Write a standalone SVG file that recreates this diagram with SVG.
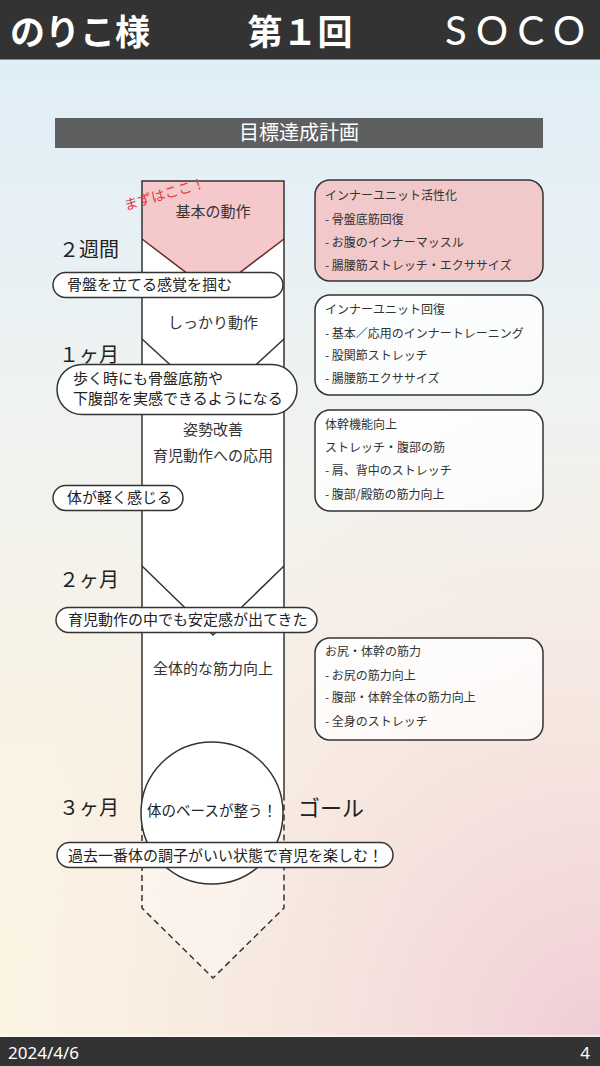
<svg xmlns="http://www.w3.org/2000/svg" width="600" height="1066" viewBox="0 0 600 1066">
<defs>
<linearGradient id="bgv" x1="0" y1="0" x2="0" y2="1">
<stop offset="0" stop-color="#dcedf8"/>
<stop offset="0.35" stop-color="#eef2f2"/>
<stop offset="0.7" stop-color="#faf3e4"/>
<stop offset="1" stop-color="#fcf5e2"/>
</linearGradient>
<radialGradient id="bgp" cx="600" cy="1036" r="620" gradientUnits="userSpaceOnUse">
<stop offset="0" stop-color="#f0cdd6" stop-opacity="1"/>
<stop offset="0.5" stop-color="#f3dcdc" stop-opacity="0.6"/>
<stop offset="1" stop-color="#f6e6e6" stop-opacity="0"/>
</radialGradient>
<linearGradient id="boxg" x1="0" y1="0" x2="1" y2="1">
<stop offset="0" stop-color="#ffffff" stop-opacity="0.95"/>
<stop offset="1" stop-color="#ffffff" stop-opacity="0.7"/>
</linearGradient>
<style>
.jp{font-family:"Noto Sans CJK JP","Noto Sans",sans-serif;}
.ln{fill:none;stroke:#333;stroke-width:1.5;}
.pill{fill:#fff;stroke:#333;stroke-width:1.5;}
.box{fill:url(#boxg);stroke:#333;stroke-width:1.5;}
.bt{font-size:12px;fill:#333;}
.ct{font-size:15px;fill:#222;}
.seg{font-size:15px;fill:#333;text-anchor:middle;}
.tm{font-size:20px;fill:#222;}
</style>
</defs>
<rect x="0" y="0" width="600" height="1066" fill="url(#bgv)"/>
<rect x="0" y="0" width="600" height="1066" fill="url(#bgp)"/>

<g id="header">
<rect x="0" y="0" width="600" height="59" fill="#333"/>
<line x1="0" y1="59.5" x2="600" y2="59.5" stroke="#888" stroke-width="1"/>
<text x="10" y="45" class="jp" font-size="35" font-weight="bold" fill="#fff">のりこ様</text>
<text x="300" y="45" class="jp" font-size="35" font-weight="bold" fill="#fff" text-anchor="middle">第１回</text>
<text x="445" y="45" font-family="Lato, 'Open Sans', sans-serif" font-weight="400" font-size="40" fill="#fff" textLength="140" lengthAdjust="spacing">SOCO</text>
</g>

<g id="title">
<rect x="55" y="118" width="488" height="30" fill="#5e5f60"/>
<text x="299" y="140" class="jp" font-size="20" fill="#fff" text-anchor="middle">目標達成計画</text>
</g>

<g id="column">
<rect x="142" y="181" width="142" height="614" fill="#fff"/>
<path d="M142 795 L142 908 L213 978 L284 908 L284 795" fill="#fff" fill-opacity="0.35" stroke="#333" stroke-width="1.5" stroke-dasharray="6 4"/>
<path d="M142 181 L284 181 L284 239 L213 293 L142 239 Z" fill="#f5c9cb"/>
<path d="M142 239 L213 293 L284 239" fill="none" stroke="#6a2a2a" stroke-width="1.5"/>
<path d="M142 339 L213 404 L284 339" class="ln"/>
<path d="M142 566 L213 635 L284 566" class="ln"/>
<path d="M142 795 L142 181 L284 181 L284 795" class="ln"/>
</g>

<g id="goal-circle">
<circle cx="212" cy="813" r="71" fill="#fff" stroke="#333" stroke-width="1.5"/>
<text x="212" y="816" class="jp" font-size="14.5" fill="#222" text-anchor="middle">体のベースが整う！</text>
</g>

<g id="segment-labels" class="jp">
<text x="213" y="217" class="seg">基本の動作</text>
<text x="213" y="328" class="seg">しっかり動作</text>
<text x="213" y="435" class="seg">姿勢改善</text>
<text x="213" y="461" class="seg">育児動作への応用</text>
<text x="213" y="674" class="seg">全体的な筋力向上</text>
</g>

<text x="165" y="199" class="jp" font-size="14" fill="#e83a3a" text-anchor="middle" transform="rotate(-16 165 195)">まずはここ！</text>

<g id="time-labels" class="jp">
<text x="59" y="257" class="tm">２週間</text>
<text x="59" y="362" class="tm">１ヶ月</text>
<text x="59" y="587" class="tm">２ヶ月</text>
<text x="59" y="815" class="tm">３ヶ月</text>
<text x="298" y="816" font-size="22" fill="#222">ゴール</text>
</g>

<g id="callout-1" class="jp">
<rect x="53" y="272.5" width="230" height="25" rx="12.5" class="pill"/>
<text x="67" y="290" class="ct">骨盤を立てる感覚を掴む</text>
</g>
<g id="callout-2" class="jp">
<rect x="57" y="364.5" width="240" height="50" rx="25" class="pill"/>
<text x="73" y="384" class="ct" font-size="14.8">歩く時にも骨盤底筋や</text>
<text x="73" y="403.5" class="ct" font-size="14.8">下腹部を実感できるようになる</text>
</g>
<g id="callout-3" class="jp">
<rect x="53" y="485.5" width="130" height="25" rx="12.5" class="pill"/>
<text x="67" y="503" class="ct">体が軽く感じる</text>
</g>
<g id="callout-4" class="jp">
<rect x="56" y="607.5" width="261" height="25" rx="12.5" class="pill"/>
<text x="68" y="625" class="ct">育児動作の中でも安定感が出てきた</text>
</g>
<g id="callout-5" class="jp">
<rect x="57" y="842.5" width="336" height="25" rx="12.5" class="pill"/>
<text x="68" y="861" class="ct" font-size="15.5">過去一番体の調子がいい状態で育児を楽しむ！</text>
</g>

<g id="box-1" class="jp">
<rect x="315" y="180" width="228" height="101" rx="15" fill="#f1c9ca" stroke="#333" stroke-width="1.5"/>
<text x="325" y="199.5" class="bt">インナーユニット活性化</text>
<text x="325" y="223.5" class="bt">- 骨盤底筋回復</text>
<text x="325" y="246.5" class="bt">- お腹のインナーマッスル</text>
<text x="325" y="269.5" class="bt">- 腸腰筋ストレッチ・エクササイズ</text>
</g>
<g id="box-2" class="jp">
<rect x="315" y="295" width="228" height="100" rx="15" class="box"/>
<text x="325" y="313.5" class="bt">インナーユニット回復</text>
<text x="325" y="337.5" class="bt">- 基本／応用のインナートレーニング</text>
<text x="325" y="359.5" class="bt">- 股関節ストレッチ</text>
<text x="325" y="382.5" class="bt">- 腸腰筋エクササイズ</text>
</g>
<g id="box-3" class="jp">
<rect x="315" y="410" width="228" height="101" rx="15" class="box"/>
<text x="325" y="429" class="bt">体幹機能向上</text>
<text x="325" y="452" class="bt">ストレッチ・腹部の筋</text>
<text x="325" y="475" class="bt">- 肩、背中のストレッチ</text>
<text x="325" y="499" class="bt">- 腹部/殿筋の筋力向上</text>
</g>
<g id="box-4" class="jp">
<rect x="315" y="638" width="228" height="102" rx="15" class="box"/>
<text x="325" y="656" class="bt">お尻・体幹の筋力</text>
<text x="325" y="680" class="bt">- お尻の筋力向上</text>
<text x="325" y="702" class="bt">- 腹部・体幹全体の筋力向上</text>
<text x="325" y="726" class="bt">- 全身のストレッチ</text>
</g>

<g id="footer">
<line x1="0" y1="1036" x2="600" y2="1036" stroke="#fff" stroke-width="1"/>
<rect x="0" y="1037" width="600" height="29" fill="#333"/>
<text x="8" y="1059" font-family="'Noto Sans','Open Sans',sans-serif" font-size="17" fill="#fff">2024/4/6</text>
<text x="590" y="1059" font-family="'Noto Sans','Open Sans',sans-serif" font-size="17" fill="#fff" text-anchor="end">4</text>
</g>
</svg>
